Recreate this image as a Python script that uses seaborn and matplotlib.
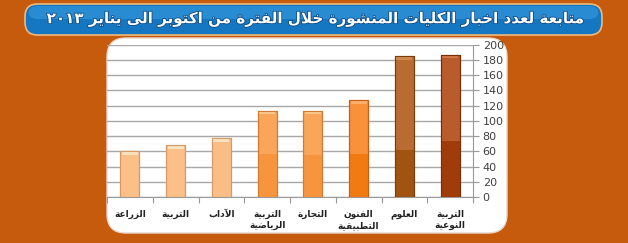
import numpy as np
import pandas as pd
import matplotlib
matplotlib.use("Agg")
import matplotlib.pyplot as plt
import matplotlib.patheffects as pe
from matplotlib.patches import FancyBboxPatch, Rectangle
import seaborn as sns

# ---------------- data ----------------
categories = ["الزراعة", "التربية", "الآداب", "التربية\nالرياضية", "التجارة",
              "الفنون\nالتطبيقية", "العلوم", "التربية\nالنوعية"]
values = [60, 68, 77, 113, 113, 127, 185, 187]
y_ticks = [0, 20, 40, 60, 80, 100, 120, 140, 160, 180, 200]
title_text = "متابعة لعدد اخبار الكليات المنشورة خلال الفترة من اكتوبر الى يناير ٢٠١٣"

# ---------------- style ----------------
upper_colors = ["#fbbf88", "#fbbf88", "#fbbd86", "#f9a65a", "#f9a65a",
                "#f9903a", "#b86c32", "#b85c2c"]
lower_colors = ["#fbbf88", "#fbbf88", "#fbbd86", "#f7953e", "#f7953e",
                "#f27a12", "#a0540f", "#a03c0a"]
edge_colors = ["#d79a66", "#d79a66", "#d79a66", "#d47a30", "#d47a30",
               "#c86010", "#7a3c08", "#7a2c06"]
cap_colors = ["#fde2c0", "#fde2c0", "#fde2c0", "#fcc890", "#fcc890",
              "#fbb070", "#d08850", "#d07848"]
lower_shade = [0, 0, 0, 57, 55, 57, 62, 74]

# ---------------- simple Arabic shaping ----------------
DUAL = {'ئ': 0xFE89, 'ب': 0xFE8F, 'ت': 0xFE95, 'ث': 0xFE99, 'ج': 0xFE9D, 'ح': 0xFEA1,
        'خ': 0xFEA5, 'س': 0xFEB1, 'ش': 0xFEB5, 'ص': 0xFEB9, 'ض': 0xFEBD, 'ط': 0xFEC1,
        'ظ': 0xFEC5, 'ع': 0xFEC9, 'غ': 0xFECD, 'ف': 0xFED1, 'ق': 0xFED5, 'ك': 0xFED9,
        'ل': 0xFEDD, 'م': 0xFEE1, 'ن': 0xFEE5, 'ه': 0xFEE9, 'ي': 0xFEF1}
RIGHT = {'آ': 0xFE81, 'أ': 0xFE83, 'ؤ': 0xFE85, 'إ': 0xFE87, 'ا': 0xFE8D, 'ة': 0xFE93,
         'د': 0xFEA9, 'ذ': 0xFEAB, 'ر': 0xFEAD, 'ز': 0xFEAF, 'و': 0xFEED, 'ى': 0xFEEF}
NONE = {'ء': 0xFE80}
LAMALEF = {'آ': 0xFEF5, 'أ': 0xFEF7, 'إ': 0xFEF9, 'ا': 0xFEFB}
DIGITS = set('٠١٢٣٤٥٦٧٨٩0123456789')


def shape_word(w):
    toks = []
    i = 0
    while i < len(w):
        c = w[i]
        if c == 'ل' and i + 1 < len(w) and w[i + 1] in LAMALEF:
            toks.append(('LA', w[i + 1]))
            i += 2
        else:
            toks.append(('C', c))
            i += 1

    def jn(t):
        return t[0] == 'C' and t[1] in DUAL

    def jp(t):
        return t[0] == 'LA' or t[1] in DUAL or t[1] in RIGHT

    out = []
    for k, t in enumerate(toks):
        pc = k > 0 and jn(toks[k - 1]) and jp(t)
        nc = k + 1 < len(toks) and jn(t) and jp(toks[k + 1])
        c = t[1]
        if t[0] == 'LA':
            out.append(chr(LAMALEF[c] + (1 if pc else 0)))
        elif c in DUAL:
            b = DUAL[c]
            out.append(chr(b + 3 if pc and nc else b + 1 if pc else b + 2 if nc else b))
        elif c in RIGHT:
            out.append(chr(RIGHT[c] + (1 if pc else 0)))
        elif c in NONE:
            out.append(chr(NONE[c]))
        else:
            out.append(c)
    return ''.join(reversed(out))


def ar(text):
    lines = []
    for line in text.split('\n'):
        words = []
        for w in line.split(' '):
            words.append(w if all(ch in DIGITS for ch in w) else shape_word(w))
        lines.append(' '.join(reversed(words)))
    return '\n'.join(lines)


# ---------------- figure ----------------
W, H = 628, 243
fig = plt.figure(figsize=(W / 100, H / 100), dpi=100)
fig.patch.set_facecolor("#c65b0e")

# white panel
panel = FancyBboxPatch((107 / W, (H - 233) / H), (507 - 107) / W, (233 - 38) / H,
                       boxstyle="round,pad=0,rounding_size=0.03",
                       transform=fig.transFigure, facecolor="white",
                       edgecolor="#e8d8cc", linewidth=1.0, zorder=-3,
                       mutation_aspect=W / H)
fig.patches.append(panel)

# title bar
bar_shape = FancyBboxPatch((25 / W, (H - 35) / H), (602 - 25) / W, (35 - 4) / H,
                           boxstyle="round,pad=0,rounding_size=0.02",
                           transform=fig.transFigure, facecolor="#1577c2",
                           edgecolor="#f0b878", linewidth=1.2, zorder=-2,
                           mutation_aspect=W / H)
fig.patches.append(bar_shape)
hi = FancyBboxPatch((28 / W, (H - 19) / H), (599 - 28) / W, (19 - 6) / H,
                    boxstyle="round,pad=0,rounding_size=0.015",
                    transform=fig.transFigure, facecolor="#3a9ee0",
                    edgecolor="none", alpha=0.55, zorder=-1.5,
                    mutation_aspect=W / H)
fig.patches.append(hi)

t = fig.text(316 / W, (H - 19.5) / H, ar(title_text), ha="center", va="center",
             color="white", fontsize=13, fontweight="bold",
             family=["DejaVu Sans"], zorder=3,
             path_effects=[pe.withStroke(linewidth=1.2, foreground="#0b4a85")])
renderer = fig.canvas.get_renderer()
tw = t.get_window_extent(renderer).width
t.set_fontsize(13 * 537.0 / tw)

ax = fig.add_axes([107 / W, (H - 197) / H, 366 / W, (197 - 44.7) / H])
ax.set_facecolor("none")

df = pd.DataFrame({"cat": [ar(c) for c in categories], "val": values})
sns.barplot(data=df, x="cat", y="val", hue="cat", palette=upper_colors,
            legend=False, width=0.42, ax=ax, saturation=1, zorder=3)

for i, p in enumerate(list(ax.patches)):
    p.set_edgecolor(edge_colors[i])
    p.set_linewidth(0.8)
    x0, w, h = p.get_x(), p.get_width(), p.get_height()
    if lower_shade[i] > 0:
        ax.add_patch(Rectangle((x0, 0), w, min(h, lower_shade[i]),
                               facecolor=lower_colors[i], edgecolor="none", zorder=3.5))
    ax.add_patch(Rectangle((x0 + w * 0.08, h - 4.5), w * 0.84, 3.5,
                           facecolor=cap_colors[i], edgecolor="none", zorder=3.6))
    ax.add_patch(Rectangle((x0, 0), w, h, facecolor="none",
                           edgecolor=edge_colors[i], linewidth=0.8, zorder=3.7))

ax.set_xlim(-0.5, len(categories) - 0.5)
ax.set_ylim(0, 200)
ax.set_yticks(y_ticks)
ax.yaxis.tick_right()
ax.tick_params(axis="y", labelsize=8, labelcolor="#404040", color="#999999",
               length=4, width=0.8, pad=3, direction="out")
ax.yaxis.grid(True, color="#a8a8a8", linewidth=1.0, zorder=0)
ax.set_axisbelow(True)
ax.set_xticks(range(len(categories)))
ax.set_xticklabels(df["cat"], fontsize=6.5, fontweight="bold", color="#222222",
                   linespacing=1.3)
ax.tick_params(axis="x", length=0, pad=9)
ax.set_xticks(np.arange(-0.5, len(categories), 1.0), minor=True)
ax.tick_params(axis="x", which="minor", length=4, color="#999999", width=0.8)
ax.set_xlabel("")
ax.set_ylabel("")
for s in ["top", "left"]:
    ax.spines[s].set_visible(False)
ax.spines["right"].set_color("#999999")
ax.spines["bottom"].set_color("#999999")

fig.savefig("out.png", dpi=100, facecolor=fig.get_facecolor())
